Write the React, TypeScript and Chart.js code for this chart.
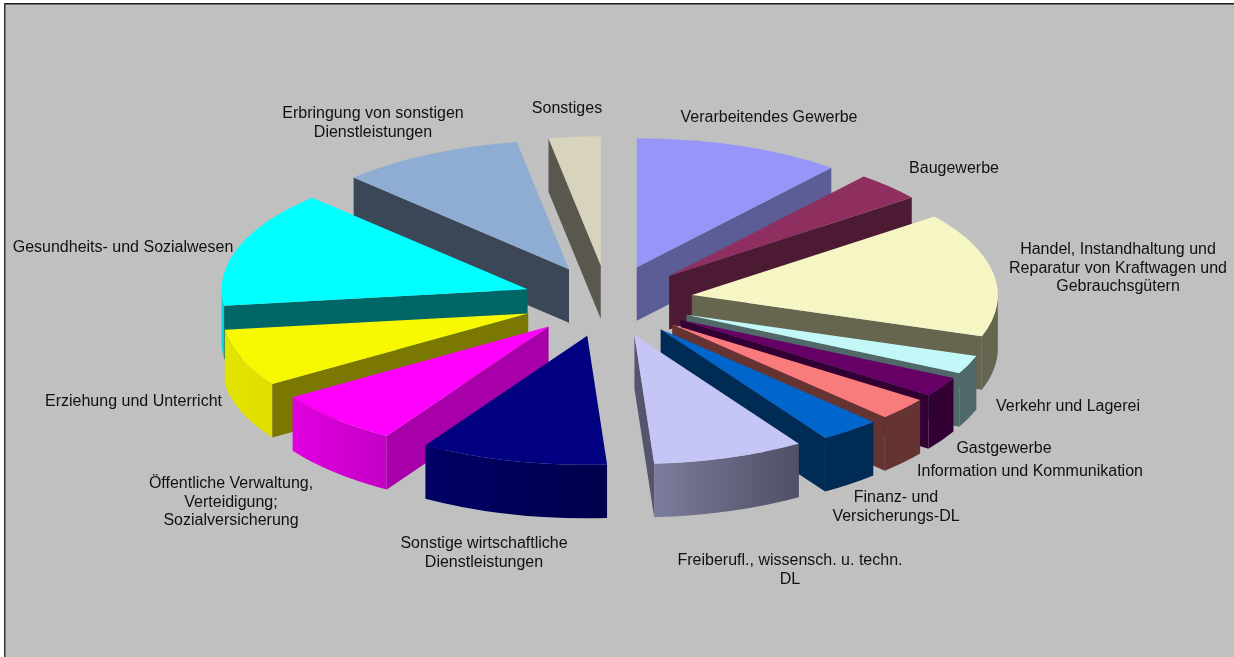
import React, { useEffect, useRef } from "react";
import { Chart, registerables } from "chart.js";

Chart.register(...registerables);

// ---------- data ----------
const categories = [
  "Verarbeitendes Gewerbe",
  "Baugewerbe",
  "Handel, Instandhaltung und Reparatur von Kraftwagen und Gebrauchsgütern",
  "Verkehr und Lagerei",
  "Gastgewerbe",
  "Information und Kommunikation",
  "Finanz- und Versicherungs-DL",
  "Freiberufl., wissensch. u. techn. DL",
  "Sonstige wirtschaftliche Dienstleistungen",
  "Öffentliche Verwaltung, Verteidigung; Sozialversicherung",
  "Erziehung und Unterricht",
  "Gesundheits- und Sozialwesen",
  "Erbringung von sonstigen Dienstleistungen",
  "Sonstiges",
];
const shares = [10.97, 3.6, 15.6, 2.3, 2.5, 2.8, 3.2, 8.0, 9.9, 6.9, 7.2, 14.6, 9.7, 2.73];

const labelLines = [
  ["Verarbeitendes Gewerbe"],
  ["Baugewerbe"],
  ["Handel, Instandhaltung und", "Reparatur von Kraftwagen und", "Gebrauchsgütern"],
  ["Verkehr und Lagerei"],
  ["Gastgewerbe"],
  ["Information und Kommunikation"],
  ["Finanz- und", "Versicherungs-DL"],
  ["Freiberufl., wissensch. u. techn.", "DL"],
  ["Sonstige wirtschaftliche", "Dienstleistungen"],
  ["Öffentliche Verwaltung,", "Verteidigung;", "Sozialversicherung"],
  ["Erziehung und Unterricht"],
  ["Gesundheits- und Sozialwesen"],
  ["Erbringung von sonstigen", "Dienstleistungen"],
  ["Sonstiges"],
];

// ---------- styles ----------
const topColors = [
  "#9696F8", "#8F2F5F", "#F6F6C4", "#C2F8F8", "#660066", "#F97C7C", "#0066CC",
  "#C6C6F6", "#000080", "#FF00FF", "#F8F800", "#00FFFF", "#8FADD3", "#D8D3BD",
];
const radialColors = [
  "#5C5C96", "#4C1A33", "#666650", "#506868", "#330033", "#663333", "#002B55",
  "#55556E", "#00005A", "#A800A8", "#7A7800", "#006666", "#3B4656", "#5A574E",
];
const outerFrom = [
  "#5C5C96", "#4C1A33", "#666650", "#506868", "#330033", "#663333", "#002B55",
  "#7C7C9C", "#000066", "#E000E0", "#E4E400", "#00D8D8", "#3B4656", "#5A574E",
];
const outerTo = [
  "#5C5C96", "#4C1A33", "#666650", "#506868", "#330033", "#663333", "#002B55",
  "#4F4F66", "#00004C", "#C400C4", "#DEDE00", "#00D8D8", "#3B4656", "#5A574E",
];
const labelCenters = [
  [769, 118], [954, 169], [1118, 250], [1068, 407], [1004, 449], [1030, 472], [896, 498],
  [790, 561], [484, 544], [231, 484], [133.5, 402], [123, 248], [373, 114], [567, 109],
];
const LINE_H = 18.2;
const FONT = '16px "Liberation Sans", Arial, sans-serif';
const TILT = 0.4216;
const DEPTH = 53.5;
const EXPLODE = 85;
const RADIUS = 306;

const pie3d = {
  id: "pie3d",
  beforeDraw(chart: any) {
    const { ctx, width, height } = chart;
    ctx.save();
    ctx.fillStyle = "#ffffff";
    ctx.fillRect(0, 0, width, height);
    ctx.fillStyle = "#C0C0C0";
    ctx.fillRect(5, 4, width - 5, height - 4);
    ctx.fillStyle = "#1A1A1A";
    ctx.fillRect(4, 3, width - 4, 1.5);
    ctx.fillStyle = "#333333";
    ctx.fillRect(4, 3, 1.5, height - 3);
    ctx.restore();
  },
  beforeDatasetDraw(chart: any) {
    const { ctx } = chart;
    const arcs = chart.getDatasetMeta(0).data;
    const items = arcs.map((arc: any, i: number) => {
      const p = arc.getProps(["x", "y", "startAngle", "endAngle", "outerRadius"], true);
      const mid = (p.startAngle + p.endAngle) / 2;
      const off = arc.options.offset;
      return {
        i,
        r: p.outerRadius,
        a0: p.startAngle,
        a1: p.endAngle,
        mid,
        ax: p.x + Math.cos(mid) * off,
        ay: p.y + Math.sin(mid) * off * TILT,
        color: arc.options.backgroundColor,
      };
    });
    items.sort((a: any, b: any) => Math.sin(a.mid) - Math.sin(b.mid));
    ctx.save();
    ctx.lineJoin = "round";
    for (const s of items) {
      const ry = s.r * TILT;
      const pt = (t: number) => [s.ax + Math.cos(t) * s.r, s.ay + Math.sin(t) * ry];
      const radial = (t: number) => {
        const [x, y] = pt(t);
        ctx.beginPath();
        ctx.moveTo(s.ax, s.ay);
        ctx.lineTo(x, y);
        ctx.lineTo(x, y + DEPTH);
        ctx.lineTo(s.ax, s.ay + DEPTH);
        ctx.closePath();
        ctx.fillStyle = radialColors[s.i];
        ctx.fill();
      };
      // outer curved wall: only the front half of the ellipse can show
      const spans: [number, number][] = [];
      for (const k of [0, 2 * Math.PI]) {
        const lo = Math.max(s.a0, k);
        const hi = Math.min(s.a1, k + Math.PI);
        if (hi > lo) spans.push([lo, hi]);
      }
      for (const [lo, hi] of spans) {
        const [x0] = pt(lo);
        const [x1] = pt(hi);
        const g = ctx.createLinearGradient(Math.min(x0, x1), 0, Math.max(x0, x1), 0);
        g.addColorStop(0, outerFrom[s.i]);
        g.addColorStop(1, outerTo[s.i]);
        ctx.beginPath();
        ctx.ellipse(s.ax, s.ay, s.r, ry, 0, lo, hi);
        ctx.ellipse(s.ax, s.ay + DEPTH, s.r, ry, 0, hi, lo, true);
        ctx.closePath();
        ctx.fillStyle = g;
        ctx.fill();
      }
      if (Math.cos(s.a0) < 0) radial(s.a0);
      if (Math.cos(s.a1) > 0) radial(s.a1);
      ctx.beginPath();
      ctx.moveTo(s.ax, s.ay);
      ctx.ellipse(s.ax, s.ay, s.r, ry, 0, s.a0, s.a1);
      ctx.closePath();
      ctx.fillStyle = s.color;
      ctx.fill();
    }
    ctx.restore();
    return false;
  },
  afterDraw(chart: any) {
    const { ctx } = chart;
    ctx.save();
    ctx.fillStyle = "#111111";
    ctx.font = FONT;
    ctx.textAlign = "center";
    ctx.textBaseline = "middle";
    labelLines.forEach((lines, i) => {
      const [cx, cy] = labelCenters[i];
      lines.forEach((line, j) => ctx.fillText(line, cx, cy + j * LINE_H));
    });
    ctx.restore();
  },
};

export default function App() {
  const ref = useRef<HTMLCanvasElement>(null);
  useEffect(() => {
    document.body.style.margin = "0";
    document.body.style.background = "#ffffff";
    const chart = new Chart(ref.current as HTMLCanvasElement, {
      type: "pie",
      data: {
        labels: categories,
        datasets: [
          {
            data: shares,
            backgroundColor: topColors,
            borderWidth: 0,
            offset: EXPLODE,
            hoverOffset: 0,
            radius: RADIUS,
          } as any,
        ],
      },
      options: {
        responsive: false,
        animation: false,
        devicePixelRatio: 1,
        radius: RADIUS,
        layout: { padding: { left: 0, top: 0, right: 18, bottom: 55 } },
        plugins: { legend: { display: false }, tooltip: { enabled: false } },
      } as any,
      plugins: [pie3d],
    });
    return () => chart.destroy();
  }, []);
  return <canvas ref={ref} width={1234} height={657} style={{ display: "block" }} />;
}
